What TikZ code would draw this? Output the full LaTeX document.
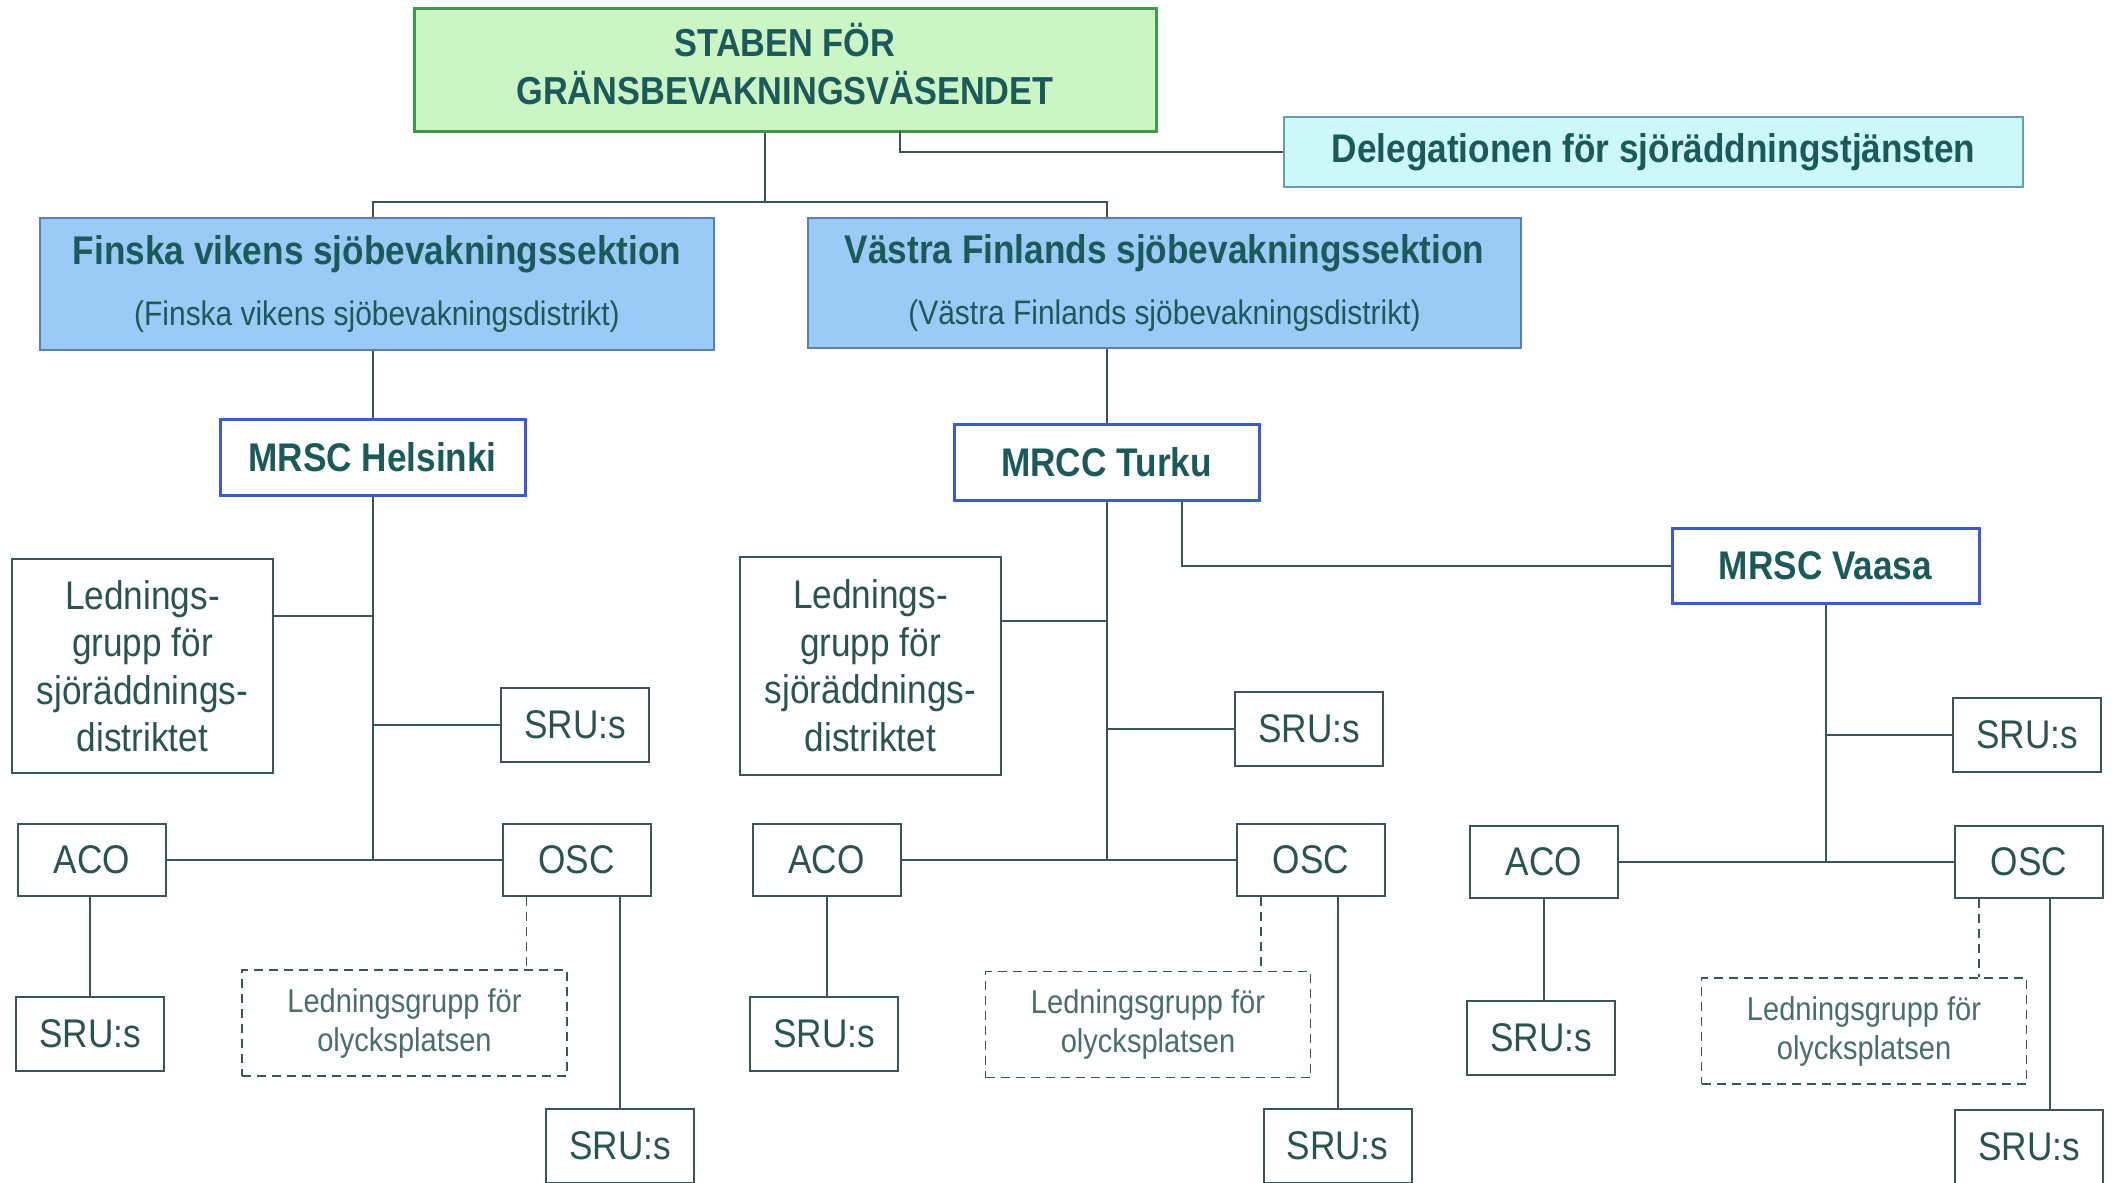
\documentclass[tikz,border=0pt]{standalone}
\usepackage{fontspec}
\setmainfont{Liberation Sans}
\newfontfamily\cndfont[FakeStretch=0.88]{Liberation Sans}
\usepackage{xcolor}
\usepackage{tikz}
\definecolor{txtdark}{HTML}{1C5A5A}
\definecolor{txtreg}{HTML}{2A5450}
\definecolor{linecol}{HTML}{3A5558}
\definecolor{greenfill}{HTML}{CCF5C6}
\definecolor{greenline}{HTML}{3E9A4A}
\definecolor{cyanfill}{HTML}{CCF8FA}
\definecolor{cyanline}{HTML}{6A9AB8}
\definecolor{bluefill}{HTML}{9CCAF6}
\definecolor{blueline}{HTML}{5A7FB2}
\definecolor{mrscline}{HTML}{3A5CC8}
\newcommand{\ttl}[1]{{\bfseries\fontsize{40}{48}\selectfont #1}}
\newcommand{\sub}[1]{{\fontsize{34}{38}\selectfont #1}}

\begin{document}
\begin{tikzpicture}[x=1pt, y=-1pt,
    box/.style={draw=linecol, line width=2pt, fill=white, inner sep=0pt, align=center, text=txtreg, font=\cndfont\fontsize{40}{47.5}\selectfont},
    smallbox/.style={box, minimum width=148, minimum height=74},
    mrsc/.style={box, draw=mrscline, line width=3pt, minimum width=305, minimum height=76, text=txtdark, font=\cndfont\bfseries\fontsize{40}{48}\selectfont},
    section/.style={box, draw=blueline, fill=bluefill, text=txtdark},
    dashbox/.style={draw=linecol, dash pattern=on 9pt off 6pt, line width=1.6pt, inner sep=0pt, align=center, text=txtreg!85, minimum width=325, minimum height=106, font=\cndfont\fontsize{33}{39}\selectfont},
    dashlink/.style={draw=linecol, line width=1.6pt, dash pattern=on 9pt off 6pt},
    link/.style={draw=linecol, line width=2pt}]
    \fill[white] (0,0) rectangle (2112,1183);
    \useasboundingbox (0,0) rectangle (2112,1183);

    \node [box, draw=greenline, fill=greenfill, line width=3pt, minimum width=742, minimum height=123, text=txtdark, font=\cndfont\bfseries\fontsize{39}{48}\selectfont] (staben) at (785, 69.5) {STABEN FÖR\\GRÄNSBEVAKNINGSVÄSENDET\rule[-12pt]{0pt}{1pt}};
    \node [box, draw=cyanline, fill=cyanfill, minimum width=739, minimum height=70, text=txtdark, font=\cndfont\bfseries\fontsize{40}{48}\selectfont] (deleg) at (1653.5, 152) {Delegationen för sjöräddningstjänsten};

    \node [section, minimum width=674, minimum height=132] (finska) at (377, 284) {\ttl{Finska vikens sjöbevakningssektion}\\[14pt]\sub{(Finska vikens sjöbevakningsdistrikt)}};
    \node [section, minimum width=713, minimum height=130] (vastra) at (1164.5, 283) {\ttl{Västra Finlands sjöbevakningssektion}\\[14pt]\sub{(Västra Finlands sjöbevakningsdistrikt)}};

    \node [mrsc] (helsinki) at (372.5, 457.5) {MRSC Helsinki};
    \node [mrsc] (turku) at (1106.5, 462) {MRCC Turku};
    \node [mrsc, minimum width=307, minimum height=75] (vaasa) at (1825.5, 565.5) {MRSC Vaasa};

    \coordinate (sJ) at (765, 202);
    \coordinate (dJ) at (900, 131);
    \draw [link] (staben.south -| sJ) -- (sJ);
    \draw [link] (finska.north -| helsinki) |- (sJ) -| (vastra.north -| turku);
    \draw [link] (dJ) |- (deleg.west);
    \draw [link] (finska.south -| helsinki) -- (helsinki.north);
    \draw [link] (vastra.south -| turku) -- (turku.north);
    \draw [link] (vaasa.west) -| ([xshift=-79pt]turku.south east);

    % Helsinki
    \node [box, minimum width=261, minimum height=214] (lgH) at (142.5, 666) {Lednings-\\grupp för\\sjöräddnings-\\distriktet};
    \node [smallbox] (sruH1) at (575, 725) {SRU:s};
    \node [smallbox, minimum height=72] (acoH) at (92, 860) {ACO};
    \node [smallbox, minimum height=72] (oscH) at (576.5, 860) {OSC};
    \node [smallbox] (sruH2) at (90, 1034) {SRU:s};
    \node [dashbox] (dashH) at (404.5, 1023) {Ledningsgrupp för\\olycksplatsen};
    \node [smallbox] (sruH3) at (620, 1146) {SRU:s};
    \draw [link] (helsinki.south) -- (helsinki.south |- acoH.east);
    \draw [link] (acoH.east) -- (oscH.west);
    \draw [link] ([yshift=50pt]lgH.east) -- ([yshift=50pt]lgH.east -| helsinki);
    \draw [link] (sruH1.west) -- (sruH1.west -| helsinki);
    \draw [link] (sruH2.north) -- (sruH2.north |- acoH.south);
    \draw [dashlink] ([xshift=25pt]oscH.south west) -- ([xshift=25pt]oscH.south west |- dashH.north);
    \draw [link] (sruH3.north) -- (sruH3.north |- oscH.south);

    % Turku
    \node [box, minimum width=261, minimum height=218] (lgT) at (870.5, 665.5) {Lednings-\\grupp för\\sjöräddnings-\\distriktet};
    \node [smallbox] (sruT1) at (1309, 729) {SRU:s};
    \node [smallbox, minimum height=72] (acoT) at (826.5, 860) {ACO};
    \node [smallbox, minimum height=72] (oscT) at (1311, 860) {OSC};
    \node [smallbox] (sruT2) at (824, 1034) {SRU:s};
    \node [dashbox] (dashT) at (1148, 1024.5) {Ledningsgrupp för\\olycksplatsen};
    \node [smallbox] (sruT3) at (1337.5, 1146) {SRU:s};
    \draw [link] (turku.south) -- (turku.south |- acoT.east);
    \draw [link] (acoT.east) -- (oscT.west);
    \draw [link] ([yshift=45pt]lgT.east) -- ([yshift=45pt]lgT.east -| turku);
    \draw [link] (sruT1.west) -- (sruT1.west -| turku);
    \draw [link] (acoT.south) -- (acoT.south |- sruT2.north);
    \draw [dashlink] ([xshift=25pt]oscT.south west) -- ([xshift=25pt]oscT.south west |- dashT.north);
    \draw [link] (sruT3.north) -- (sruT3.north |- oscT.south);

    % Vaasa
    \node [smallbox] (sruV1) at (2027, 735) {SRU:s};
    \node [smallbox, minimum height=72] (acoV) at (1544, 861.5) {ACO};
    \node [smallbox, minimum height=72] (oscV) at (2029, 861.5) {OSC};
    \node [smallbox] (sruV2) at (1541, 1037.5) {SRU:s};
    \node [dashbox] (dashV) at (1864, 1031) {Ledningsgrupp för\\olycksplatsen};
    \node [smallbox] (sruV3) at (2029, 1147) {SRU:s};
    \draw [link] (vaasa.south) -- (vaasa.south |- acoV.east);
    \draw [link] (acoV.east) -- (oscV.west);
    \draw [link] (sruV1.west) -- (sruV1.west -| vaasa);
    \draw [link] (acoV.south) -- (acoV.south |- sruV2.north);
    \draw [dashlink] ([xshift=25pt]oscV.south west) -- ([xshift=25pt]oscV.south west |- dashV.north);
    \draw [link] ([xshift=21pt]sruV3.north) -- ([xshift=21pt]sruV3.north |- oscV.south);
\end{tikzpicture}
\end{document}
